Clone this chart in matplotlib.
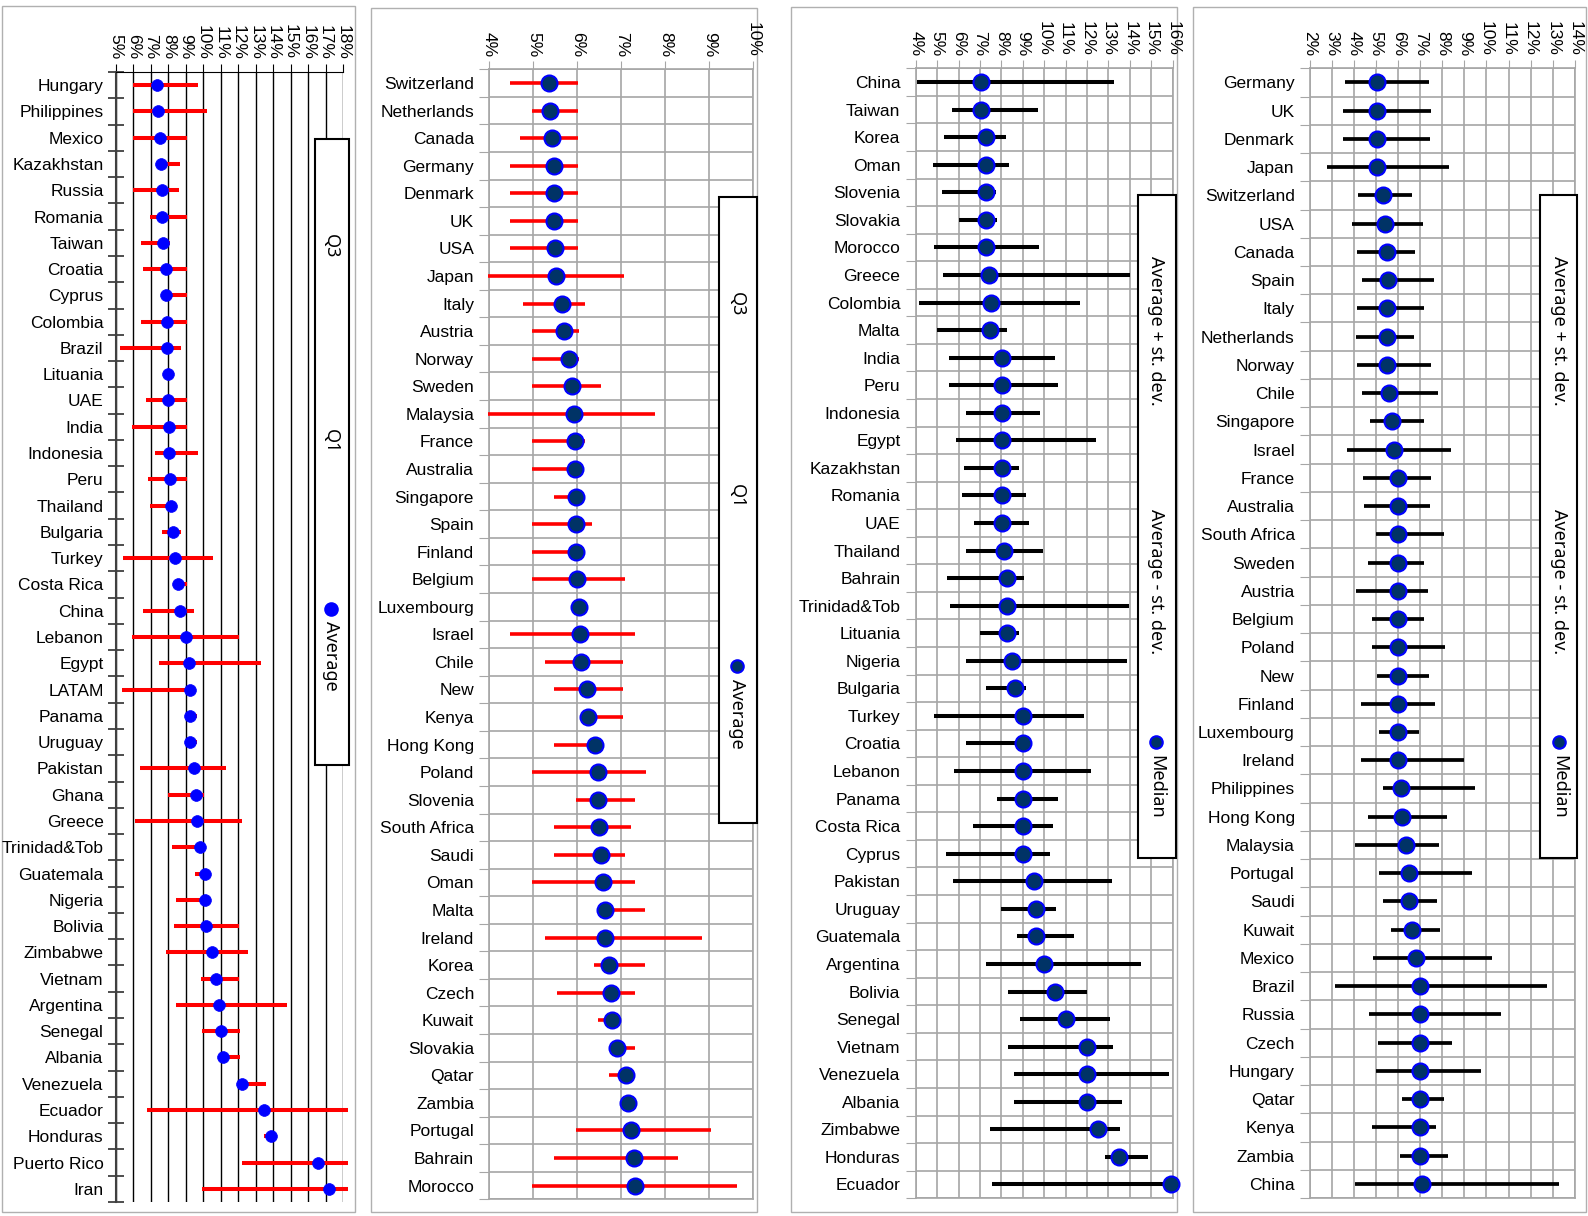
import numpy as np
import matplotlib
matplotlib.use("Agg")
import matplotlib.pyplot as plt
from matplotlib.patches import Rectangle
from matplotlib.lines import Line2D

# Figure size in pixels (dpi 100)
W, H = 1588, 1216

# ---- Panel 1: Q1 / Average / Q3 ----
p1_names = ["Hungary", "Philippines", "Mexico", "Kazakhstan", "Russia", "Romania", "Taiwan",
            "Croatia", "Cyprus", "Colombia", "Brazil", "Lituania", "UAE", "India", "Indonesia",
            "Peru", "Thailand", "Bulgaria", "Turkey", "Costa Rica", "China", "Lebanon", "Egypt",
            "LATAM", "Panama", "Uruguay", "Pakistan", "Ghana", "Greece", "Trinidad&Tob",
            "Guatemala", "Nigeria", "Bolivia", "Zimbabwe", "Vietnam", "Argentina", "Senegal",
            "Albania", "Venezuela", "Ecuador", "Honduras", "Puerto Rico", "Iran"]
p1_q1 = [6.0, 6.0, 6.0, 7.45, 6.0, 6.92, 6.46, 6.54, 7.7, 6.44, 5.24, 7.8, 6.69, 5.94, 7.22,
         6.84, 6.94, 7.66, 5.41, 8.3, 6.55, 5.94, 7.49, 5.37, 9.05, 9.1, 6.38, 7.97, 6.06, 8.18,
         9.53, 8.44, 8.31, 7.89, 9.87, 8.45, 9.94, 10.9, 12.0, 6.76, 13.46, 12.2, 9.94]
p1_avg = [7.34, 7.38, 7.53, 7.57, 7.64, 7.66, 7.7, 7.85, 7.88, 7.91, 7.93, 7.95, 8.0, 8.04, 8.06,
          8.1, 8.16, 8.27, 8.37, 8.54, 8.65, 9.0, 9.17, 9.21, 9.23, 9.26, 9.47, 9.61, 9.63, 9.82,
          10.08, 10.12, 10.16, 10.52, 10.75, 10.9, 10.99, 11.12, 12.23, 13.48, 13.9, 16.54, 17.22]
p1_q3 = [9.67, 10.2, 9.06, 8.68, 8.58, 9.06, 8.07, 9.06, 9.09, 9.09, 8.71, 8.33, 9.09, 9.09, 9.68,
         9.09, 8.4, 8.71, 10.58, 9.05, 9.49, 12.07, 13.33, 9.4, 9.63, 9.66, 11.31, 10.06, 12.22, 10.0,
         10.3, 10.3, 12.07, 12.55, 12.07, 14.8, 12.08, 12.08, 13.57, 18.3, 14.1, 18.3, 18.3]

# ---- Panel 2: Q1 / Average / Q3 ----
p2_names = ["Switzerland", "Netherlands", "Canada", "Germany", "Denmark", "UK", "USA", "Japan",
            "Italy", "Austria", "Norway", "Sweden", "Malaysia", "France", "Australia", "Singapore",
            "Spain", "Finland", "Belgium", "Luxembourg", "Israel", "Chile", "New", "Kenya",
            "Hong Kong", "Poland", "Slovenia", "South Africa", "Saudi", "Oman", "Malta", "Ireland",
            "Korea", "Czech", "Kuwait", "Slovakia", "Qatar", "Zambia", "Portugal", "Bahrain", "Morocco"]
p2_q1 = [4.47, 4.97, 4.70, 4.47, 4.47, 4.47, 4.47, 3.97, 4.77, 4.97, 4.97, 4.97, 3.97, 4.97, 4.97,
         5.47, 4.97, 4.97, 4.97, 5.98, 4.47, 5.27, 5.47, 6.14, 5.47, 4.97, 5.96, 5.47, 5.47, 4.97,
         6.5, 5.27, 6.39, 5.54, 6.47, 6.85, 6.73, 7.1, 5.98, 5.47, 4.97]
p2_avg = [5.36, 5.39, 5.43, 5.47, 5.47, 5.47, 5.50, 5.52, 5.65, 5.70, 5.80, 5.89, 5.93, 5.94, 5.94,
          5.96, 5.97, 5.97, 5.99, 6.04, 6.05, 6.08, 6.23, 6.25, 6.41, 6.46, 6.48, 6.50, 6.53, 6.58,
          6.62, 6.62, 6.73, 6.76, 6.78, 6.91, 7.11, 7.16, 7.23, 7.28, 7.31]
p2_q3 = [6.02, 6.02, 6.02, 6.02, 6.02, 6.02, 6.02, 7.07, 6.17, 6.03, 6.03, 6.53, 7.76, 6.17, 6.05,
         6.1, 6.33, 6.1, 7.09, 6.1, 7.31, 7.04, 7.04, 7.04, 6.5, 7.57, 7.31, 7.23, 7.09, 7.31,
         7.53, 8.83, 7.53, 7.31, 6.86, 7.31, 7.2, 7.2, 9.04, 8.29, 9.63]

# ---- Panel 3: Average - st. dev. / Median / Average + st. dev. ----
p3_names = ["China", "Taiwan", "Korea", "Oman", "Slovenia", "Slovakia", "Morocco", "Greece",
            "Colombia", "Malta", "India", "Peru", "Indonesia", "Egypt", "Kazakhstan", "Romania",
            "UAE", "Thailand", "Bahrain", "Trinidad&Tob", "Lituania", "Nigeria", "Bulgaria",
            "Turkey", "Croatia", "Lebanon", "Panama", "Costa Rica", "Cyprus", "Pakistan", "Uruguay",
            "Guatemala", "Argentina", "Bolivia", "Senegal", "Vietnam", "Venezuela", "Albania",
            "Zimbabwe", "Honduras", "Ecuador"]
p3_lo = [4.05, 5.7, 5.32, 4.82, 5.23, 6.04, 4.86, 5.26, 4.16, 5.01, 5.54, 5.54, 6.35, 5.9, 6.27,
         6.18, 6.73, 6.35, 5.46, 5.62, 7.02, 6.37, 7.3, 4.87, 6.35, 5.81, 7.79, 6.66, 5.43, 5.74,
         7.96, 8.74, 7.27, 8.31, 8.88, 8.31, 8.6, 8.58, 7.49, 12.85, 7.57]
p3_med = [7.05, 7.05, 7.3, 7.3, 7.3, 7.3, 7.3, 7.42, 7.5, 7.49, 8.02, 8.02, 8.02, 8.02, 8.02,
          8.02, 8.02, 8.13, 8.25, 8.25, 8.25, 8.5, 8.64, 9.0, 9.0, 9.0, 9.0, 9.0, 9.0, 9.51,
          9.61, 9.61, 10.0, 10.5, 11.0, 11.99, 11.99, 11.99, 12.5, 13.5, 15.92]
p3_hi = [13.28, 9.71, 8.2, 8.34, 7.77, 7.81, 9.74, 14.02, 11.66, 8.24, 10.5, 10.64, 9.79, 12.41,
         8.83, 9.14, 9.3, 9.95, 9.06, 13.98, 8.83, 13.86, 9.17, 11.85, 9.2, 12.18, 10.65, 10.42,
         10.29, 13.17, 10.57, 11.4, 14.53, 12.01, 13.08, 13.21, 15.82, 13.64, 13.53, 14.84, 16.0]

# ---- Panel 4: Average - st. dev. / Median / Average + st. dev. ----
p4_names = ["Germany", "UK", "Denmark", "Japan", "Switzerland", "USA", "Canada", "Spain", "Italy",
            "Netherlands", "Norway", "Chile", "Singapore", "Israel", "France", "Australia",
            "South Africa", "Sweden", "Austria", "Belgium", "Poland", "New", "Finland",
            "Luxembourg", "Ireland", "Philippines", "Hong Kong", "Malaysia", "Portugal", "Saudi",
            "Kuwait", "Mexico", "Brazil", "Russia", "Czech", "Hungary", "Qatar", "Kenya", "Zambia",
            "China"]
p4_lo = [3.57, 3.51, 3.51, 2.76, 4.16, 3.89, 4.13, 4.34, 4.15, 4.08, 4.14, 4.36, 4.74, 3.7, 4.42,
         4.45, 4.97, 4.64, 4.08, 4.82, 4.8, 5.05, 4.29, 5.15, 4.3, 5.32, 4.64, 4.02, 5.11, 5.32,
         5.65, 4.85, 3.14, 4.67, 5.09, 4.98, 6.18, 4.79, 6.06, 4.02]
p4_med = [5.02, 5.02, 5.02, 5.02, 5.29, 5.41, 5.47, 5.53, 5.5, 5.5, 5.5, 5.59, 5.7, 5.8, 6.0,
          6.0, 6.0, 6.0, 6.0, 6.0, 6.0, 6.0, 6.0, 6.0, 6.0, 6.12, 6.18, 6.36, 6.5, 6.5,
          6.62, 6.8, 7.0, 7.0, 7.0, 7.0, 7.0, 7.0, 7.0, 7.08]
p4_hi = [7.39, 7.48, 7.45, 8.31, 6.61, 7.14, 6.77, 7.6, 7.17, 6.73, 7.5, 7.82, 7.18, 8.41, 7.47,
         7.42, 8.06, 7.15, 7.33, 7.18, 8.11, 7.41, 7.67, 6.94, 8.97, 9.47, 8.2, 7.86, 9.33, 7.76,
         7.91, 10.23, 12.73, 10.65, 8.44, 9.74, 8.09, 7.71, 8.27, 13.3]

LABEL_FONT = "Liberation Sans"
LEGEND_FONT = "Noto Sans"
NAVY = "#003366"
GRID = "#A6A6A6"

fig = plt.figure(figsize=(W / 100, H / 100), dpi=100)


def px_rect(l, t, r, b):
    return [l / W, 1 - b / H, (r - l) / W, (b - t) / H]


def fx(x):
    return x / W


def fy(y):
    return 1 - y / H


def panel(rect, names, lo, mid, hi, xmin, xmax, bar_color, bar_lw, dot_face, dot_edge,
          dot_size, excel_grid, label_pad):
    ax = fig.add_axes(rect)
    n = len(names)
    y = np.arange(n)
    ax.hlines(y, lo, hi, color=bar_color, lw=bar_lw, zorder=3, clip_on=False)
    ax.plot(mid, y, "o", ms=dot_size, mfc=dot_face, mec=dot_edge, mew=1.5 if excel_grid else 0.5,
            zorder=4, clip_on=False)
    ax.set_xlim(xmin, xmax)
    ax.set_ylim(n - 0.5, -0.5)

    ticks = np.arange(xmin, xmax + 1)
    ax.xaxis.tick_top()
    ax.set_xticks(ticks)
    ax.set_xticklabels([f"{t}%" for t in ticks], rotation=-90, fontsize=12.5,
                       family=LABEL_FONT)

    ax.set_yticks(np.arange(n + 1) - 0.5)
    ax.set_yticklabels([])
    ax.set_yticks(y, minor=True)
    ax.set_yticklabels(names, minor=True, fontsize=12.5, family=LABEL_FONT)
    ax.tick_params(axis="y", which="minor", length=0, pad=label_pad)

    if excel_grid:
        ax.grid(True, which="major", color=GRID, lw=1.2, zorder=0)
        for s in ax.spines.values():
            s.set_color(GRID)
            s.set_linewidth(1.2)
        ax.tick_params(axis="x", which="major", direction="out", length=6, color=GRID, pad=3)
        ax.tick_params(axis="y", which="major", direction="out", length=7, color=GRID)
    else:
        ax.xaxis.grid(True, color="black", lw=1, zorder=0)
        ax.spines["right"].set_visible(False)
        ax.spines["bottom"].set_visible(False)
        ax.spines["top"].set_color("black")
        ax.spines["left"].set_color("#404040")
        ax.spines["left"].set_linewidth(1.5)
        ax.tick_params(axis="x", which="major", direction="out", length=6, color="black", pad=3)
        ax.tick_params(axis="y", which="major", direction="inout", length=12, color="#404040",
                       width=1.3)
    ax.set_axisbelow(True)
    return ax


def legend_box(l, t, r, b, xc, entries, dot_face, dot_edge, dot_y, dot_label, dot_label_top):
    fig.add_artist(Rectangle((fx(l), fy(b)), fx(r - l), (b - t) / H, transform=fig.transFigure,
                             facecolor="white", edgecolor="black", lw=1.5, zorder=10))
    for yc, txt in entries:
        fig.text(fx(xc), fy(yc), txt, rotation=-90, ha="center", va="center", fontsize=13,
                 family=LEGEND_FONT, zorder=11)
    fig.add_artist(Line2D([fx(xc)], [fy(dot_y)], marker="o", ms=9, mfc=dot_face, mec=dot_edge,
                          mew=1.5, transform=fig.transFigure, zorder=11))
    fig.text(fx(xc), fy(dot_label_top), dot_label, rotation=-90, ha="center", va="top",
             fontsize=13, family=LEGEND_FONT, zorder=11)


# panel frames
for l, t, r, b in [(2, 6, 355, 1212), (371, 8, 757, 1212), (791, 7, 1177, 1212),
                   (1193, 7, 1586, 1212)]:
    fig.add_artist(Rectangle((fx(l), fy(b)), fx(r - l), (b - t) / H, transform=fig.transFigure,
                             fill=False, edgecolor="#B0B0B0", lw=1, zorder=0))

panel(px_rect(116, 72, 343, 1202), p1_names, p1_q1, p1_avg, p1_q3, 5, 18,
      "#FF0000", 2.9, "#0000FF", "#0000FF", 8.5, False, 9)
panel(px_rect(489.3, 69.3, 753.3, 1199.4), p2_names, p2_q1, p2_avg, p2_q3, 4, 10,
      "#FF0000", 2.6, NAVY, "#0000FF", 11.5, True, 11)
panel(px_rect(915.7, 68.3, 1172.7, 1198.2), p3_names, p3_lo, p3_med, p3_hi, 4, 16,
      "black", 2.9, NAVY, "#0000FF", 11.5, True, 11)
panel(px_rect(1310, 68.3, 1574.7, 1198), p4_names, p4_lo, p4_med, p4_hi, 2, 14,
      "black", 2.7, NAVY, "#0000FF", 11.5, True, 11)

legend_box(315, 139, 349, 765, 331, [(246, "Q3"), (441, "Q1")],
           "#0000FF", "#0000FF", 609, "Average", 621)
legend_box(719, 197, 757, 823, 737, [(304, "Q3"), (496, "Q1")],
           NAVY, "#0000FF", 666, "Average", 679)
legend_box(1138, 195, 1176, 858, 1156, [(331, "Average + st. dev."), (582, "Average - st. dev.")],
           NAVY, "#0000FF", 742, "Median", 755)
legend_box(1540, 195, 1577, 858, 1559, [(331, "Average + st. dev."), (582, "Average - st. dev.")],
           NAVY, "#0000FF", 742, "Median", 755)

fig.savefig("out.png", dpi=100)
